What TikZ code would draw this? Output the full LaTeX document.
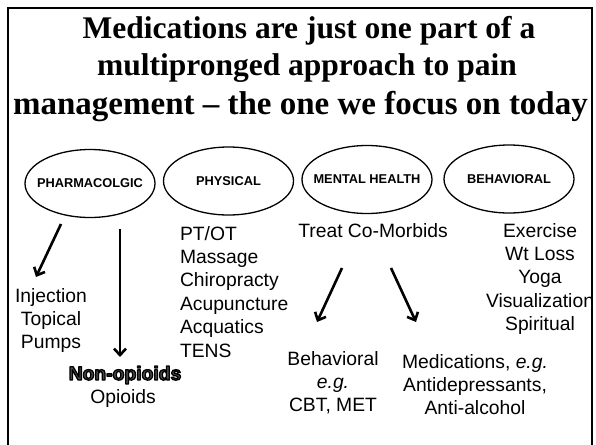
\documentclass[tikz,border=0pt]{standalone}
\usepackage{fontspec}
\setmainfont{Liberation Sans}
\newfontfamily\titlefont{Liberation Serif}
\usetikzlibrary{arrows.meta,shapes.geometric}

% centred (or left-aligned) stack of lines whose baseline is the first line
\newcommand\linesblock[2][c]{\begin{tabular}[t]{@{}#1@{}}#2\end{tabular}}
% zero-width box so the ellipse keeps its own size
\newcommand\centredword[1]{\makebox[0pt]{#1}}
% outlined bold word: glyphs filled dark grey and stroked black
\newcommand\heavyword[1]{\leavevmode
  \special{pdf:literal direct q 0 G 0.3 g 2 Tr 1.3 w 1 j}%
  #1%
  \special{pdf:literal direct Q}}

\begin{document}
\begin{tikzpicture}[x=1pt,y=-1pt,
  every node/.style={inner sep=0pt, outer sep=0pt},
  titleline/.style={font=\titlefont\bfseries\fontsize{31.5}{38}\selectfont, anchor=base},
  branch/.style={draw, line width=1.3pt, ellipse, minimum width=130pt,
    minimum height=68pt, font=\bfseries\fontsize{12.8}{15}\selectfont},
  body/.style={font=\fontsize{19.3}{23.4}\selectfont, anchor=base},
  prong/.style={line width=2.6pt, -{Straight Barb[length=6.5pt,width=12pt]}},
  slideframe/.style={line width=2.2pt}
]
\useasboundingbox (0,0) rectangle (596,444);
\fill[white] (0,0) rectangle (596,444);

% slide frame (open at the bottom)
\draw[slideframe] (8,445) -- (8,8) -- (592,8) -- (592,445);

% title
\node[titleline] (title1) at (309,39) {Medications are just one part of a};
\node[titleline] (title2) at (307,75) {multipronged approach to pain};
\node[titleline, font=\titlefont\bfseries\fontsize{33}{38}\selectfont] (title3)
  at (300.5,114) {management – the one we focus on today};

% the four prongs
\node[branch] (pharm)  at (90,183.5) {\centredword{PHARMACOLGIC}};
\node[branch] (phys)   at (228.5,181) {\centredword{PHYSICAL}};
\node[branch] (mental) at (367,179.5) {\centredword{MENTAL HEALTH}};
\node[branch] (behav)  at (509,179) {\centredword{BEHAVIORAL}};

% pharmacologic options
\node[body] (pharmlist) at (51,302) {\linesblock{Injection\\Topical\\Pumps}};
\node[body] (nonop) at (125,380) {\bfseries\heavyword{Non-opioids}};
\node[body] (opioids) at (123,403) {Opioids};

% physical options
\node[body, anchor=base west] (physlist) at (180,240)
  {\linesblock[l]{PT/OT\\Massage\\Chiropracty\\Acupuncture\\Acquatics\\TENS}};

% mental health options
\node[body] (comorb) at (373,237) {Treat Co-Morbids};
\node[body] (therapy) at (333,365) {\linesblock{Behavioral\\\emph{e.g.}\\CBT, MET}};
\node[body] (meds) at (475,368)
  {\linesblock{Medications, \emph{e.g.}\\Antidepressants,\\Anti-alcohol}};

% behavioral options
\node[body] (behavlist) at (540,237)
  {\linesblock{Exercise\\Wt Loss\\Yoga\\Visualization\\Spiritual}};

% arrows
\coordinate (p1s) at (61,224);  \coordinate (p1e) at (36,277);
\coordinate (p2s) at (120,229); \coordinate (p2e) at (120,357);
\coordinate (m1s) at (342,268); \coordinate (m1e) at (317,322);
\coordinate (m2s) at (391,268); \coordinate (m2e) at (416,322);
\draw[prong] (p1s) -- (p1e);
\draw[prong] (p2s) -- (p2e);
\draw[prong] (m1s) -- (m1e);
\draw[prong] (m2s) -- (m2e);
\end{tikzpicture}
\end{document}
